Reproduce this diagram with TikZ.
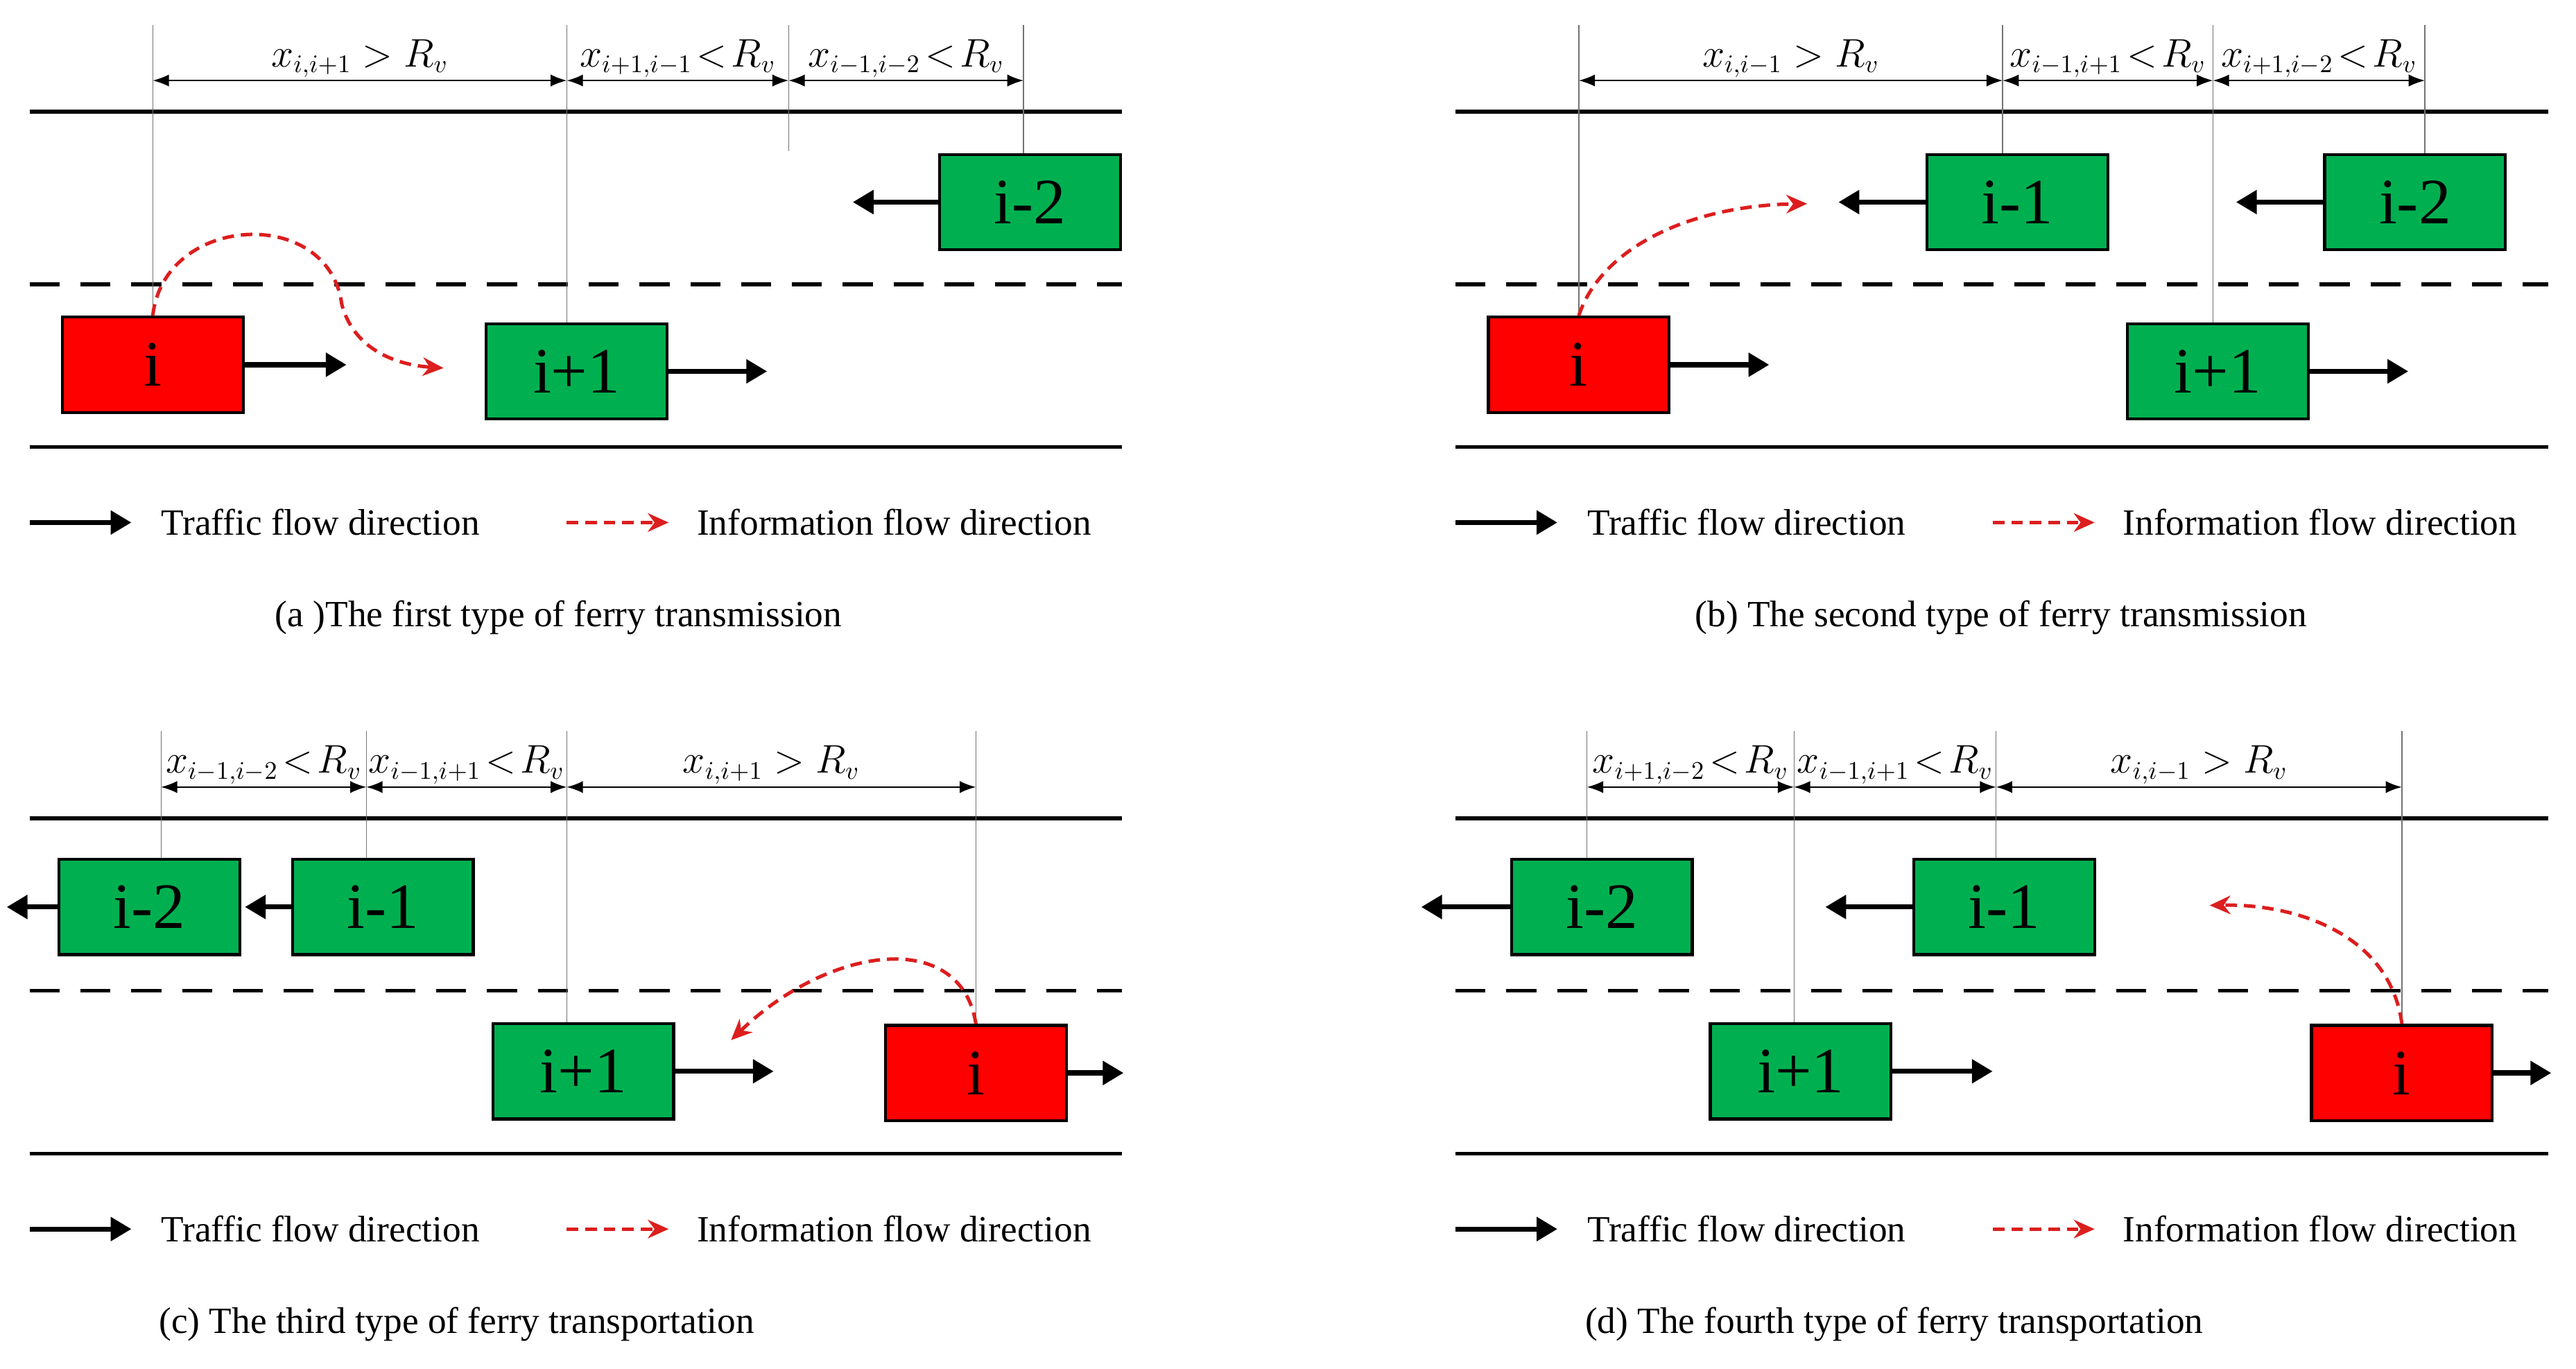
\documentclass[tikz,border=0pt]{standalone}
\usepackage{fontspec}
\setmainfont{Liberation Serif}
\usetikzlibrary{arrows.meta,positioning}
\definecolor{cargreen}{RGB}{0,176,80}
\definecolor{carred}{RGB}{255,0,0}
\definecolor{infored}{RGB}{220,30,30}
\tikzset{car/.style={draw=black, line width=1.3pt, fill=#1, minimum width=2.75cm, minimum height=1.45cm, inner sep=0pt, font=\fontsize{28}{28}\selectfont}}
\tikzset{road/.style={line width=1.6pt}}
\tikzset{lane/.style={line width=1.6pt, dash pattern=on 13pt off 9pt}}
\tikzset{move/.style={line width=2.2pt, -{Triangle[length=9pt,width=10pt]}}}
\tikzset{info/.style={infored, line width=1.5pt, dash pattern=on 5pt off 3pt, -{Stealth[length=9pt,width=8pt]}}}
\tikzset{guide/.style={black!55, line width=0.4pt}}
\tikzset{dim/.style={line width=0.6pt, {Latex[length=7pt]}-{Latex[length=7pt]}}}
\tikzset{dimlab/.style={above=0pt, inner sep=1pt, font=\fontsize{16}{16}\selectfont}}
\tikzset{txt/.style={font=\fontsize{16}{16}\selectfont, inner sep=0pt}}

\begin{document}
\begin{tikzpicture}[x=0.025cm, y=-0.025cm]
\useasboundingbox (0,0) rectangle (1568,833);

%% roads, legends and captions
\foreach \dx/\dy/\p/\cx/\cap in {0/0/a/340/{(a )The first type of ferry transmission},
    868/0/b/350/{(b) The second type of ferry transmission},
    0/430/c/278/{(c) The third type of ferry transportation},
    868/430/d/285/{(d) The fourth type of ferry transportation}}{
\begin{scope}[shift={(\dx,\dy)}]
\draw[road] (18,68) -- (683,68);
\draw[lane] (18,173) -- (683,173);
\draw[road] (18,272) -- (683,272);
\coordinate (\p ls) at (18,318);
\node[txt, anchor=west] (\p lt) at (98,318) {Traffic flow direction};
\draw[move] (\p ls) -- (\p lt.west -| 80,0);
\coordinate (\p ks) at (345,318);
\node[txt, anchor=west] (\p kt) at (424,318) {Information flow direction};
\draw[info] (\p ks) -- (\p kt.west -| 407,0);
\node[txt] (\p cap) at (\cx,376) {\cap};
\end{scope}
}

%% (a)
\node[car=carred] (ai) at (93,222) {i};
\node[car=cargreen] (ai1) at (351,226) {i+1};
\node[car=cargreen] (aim2) at (627,123) {i-2};
\coordinate (ag1) at (93,15);  \coordinate (ad1) at (93,49);
\coordinate (ag2) at (345,15); \coordinate (ad2) at (345,49);
\coordinate (ag3) at (480,15); \coordinate (ad3) at (480,49);
\coordinate (ag4) at (623,15); \coordinate (ad4) at (623,49);
\coordinate (ae3) at (480,92);
\draw[guide] (ag1) -- (ai.north);
\draw[guide] (ag2) -- (ag2 |- ai1.north);
\draw[guide] (ag3) -- (ae3);
\draw[guide] (ag4) -- (ag4 |- aim2.north);
\draw[dim] (ad1) -- node[dimlab] {$x_{i,i+1}>R_v$} (ad2);
\draw[dim] (ad2) -- node[dimlab] {$x_{i+1,i-1}\!<\!R_v$} (ad3);
\draw[dim] (ad3) -- node[dimlab] {$x_{i-1,i-2}\!<\!R_v$} (ad4);
\draw[move] (ai.east) -- ++(62,0);
\draw[move] (ai1.east) -- ++(60,0);
\draw[move] (aim2.west) -- ++(-52,0);
\coordinate (atgt) at (270,224);
\draw[info] (ai.north) .. controls (100,130) and (200,125) .. (208,185) .. controls (215,212) and (240,222) .. (atgt);

%% (b)
\node[car=carred] (bi) at (961,222) {i};
\node[car=cargreen] (bi1) at (1350,226) {i+1};
\node[car=cargreen] (bim1) at (1228,123) {i-1};
\node[car=cargreen] (bim2) at (1470,123) {i-2};
\coordinate (bg1) at (961,15);  \coordinate (bd1) at (961,49);
\coordinate (bg2) at (1219,15); \coordinate (bd2) at (1219,49);
\coordinate (bg3) at (1347,15); \coordinate (bd3) at (1347,49);
\coordinate (bg4) at (1476,15); \coordinate (bd4) at (1476,49);
\draw[guide] (bg1) -- (bi.north);
\draw[guide] (bg2) -- (bg2 |- bim1.north);
\draw[guide] (bg3) -- (bg3 |- bi1.north);
\draw[guide] (bg4) -- (bg4 |- bim2.north);
\draw[dim] (bd1) -- node[dimlab] {$x_{i,i-1}>R_v$} (bd2);
\draw[dim] (bd2) -- node[dimlab] {$x_{i-1,i+1}\!<\!R_v$} (bd3);
\draw[dim] (bd3) -- node[dimlab] {$x_{i+1,i-2}\!<\!R_v$} (bd4);
\draw[move] (bi.east) -- ++(60,0);
\draw[move] (bi1.east) -- ++(60,0);
\draw[move] (bim1.west) -- ++(-53,0);
\draw[move] (bim2.west) -- ++(-53,0);
\coordinate (btgt) at (1100,124);
\draw[info] (bi.north) .. controls (975,150) and (1030,125) .. (btgt);

%% (c)
\node[car=cargreen] (cim2) at (91,552) {i-2};
\node[car=cargreen] (cim1) at (233,552) {i-1};
\node[car=cargreen] (ci1) at (355,652) {i+1};
\node[car=carred] (ci) at (594,653) {i};
\coordinate (cg1) at (98,445);  \coordinate (cd1) at (98,479);
\coordinate (cg2) at (223,445); \coordinate (cd2) at (223,479);
\coordinate (cg3) at (345,445); \coordinate (cd3) at (345,479);
\coordinate (cg4) at (594,445); \coordinate (cd4) at (594,479);
\draw[guide] (cg1) -- (cg1 |- cim2.north);
\draw[guide] (cg2) -- (cg2 |- cim1.north);
\draw[guide] (cg3) -- (cg3 |- ci1.north);
\draw[guide] (cg4) -- (ci.north);
\draw[dim] (cd1) -- node[dimlab] {$x_{i-1,i-2}\!<\!R_v$} (cd2);
\draw[dim] (cd2) -- node[dimlab] {$x_{i-1,i+1}\!<\!R_v$} (cd3);
\draw[dim] (cd3) -- node[dimlab] {$x_{i,i+1}>R_v$} (cd4);
\draw[move] (cim2.west) -- ++(-31,0);
\draw[move] (cim1.west) -- ++(-28,0);
\draw[move] (ci1.east) -- ++(60,0);
\draw[move] (ci.east) -- ++(34,0);
\coordinate (ctgt) at (445,633);
\draw[info] (ci.north) .. controls (585,565) and (505,575) .. (ctgt);

%% (d)
\node[car=cargreen] (dim2) at (975,552) {i-2};
\node[car=cargreen] (dim1) at (1220,552) {i-1};
\node[car=cargreen] (di1) at (1096,652) {i+1};
\node[car=carred] (di) at (1462,653) {i};
\coordinate (dg1) at (966,445);  \coordinate (dd1) at (966,479);
\coordinate (dg2) at (1092,445); \coordinate (dd2) at (1092,479);
\coordinate (dg3) at (1215,445); \coordinate (dd3) at (1215,479);
\coordinate (dg4) at (1462,445); \coordinate (dd4) at (1462,479);
\draw[guide] (dg1) -- (dg1 |- dim2.north);
\draw[guide] (dg2) -- (dg2 |- di1.north);
\draw[guide] (dg3) -- (dg3 |- dim1.north);
\draw[guide] (dg4) -- (di.north);
\draw[dim] (dd1) -- node[dimlab] {$x_{i+1,i-2}\!<\!R_v$} (dd2);
\draw[dim] (dd2) -- node[dimlab] {$x_{i-1,i+1}\!<\!R_v$} (dd3);
\draw[dim] (dd3) -- node[dimlab] {$x_{i,i-1}>R_v$} (dd4);
\draw[move] (dim2.west) -- ++(-54,0);
\draw[move] (dim1.west) -- ++(-53,0);
\draw[move] (di1.east) -- ++(61,0);
\draw[move] (di.east) -- ++(35,0);
\coordinate (dtgt) at (1345,551);
\draw[info] (di.north) .. controls (1455,570) and (1400,550) .. (dtgt);
\end{tikzpicture}
\end{document}
